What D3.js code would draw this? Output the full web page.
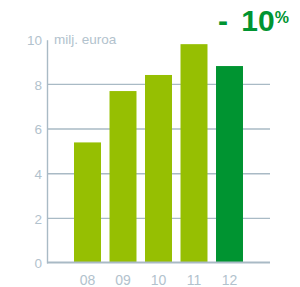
<!DOCTYPE html>
<html>
<head>
<meta charset="utf-8">
<script src="https://cdn.jsdelivr.net/npm/d3@7"></script>
<style>
  html, body { margin: 0; padding: 0; background: #fff; }
  svg { display: block; font-family: "Liberation Sans", Arial, sans-serif; }
  .axis text { fill: #b2c2cd; }
</style>
</head>
<body>
<svg id="chart" width="300" height="287"></svg>
<script>
'use strict';

var years = ['08', '09', '10', '11', '12'];
var values = [5.4, 7.7, 8.42, 9.8, 8.82];
var yTicks = [0, 2, 4, 6, 8, 10];
var unitLabel = 'milj. euroa';
var changeLabel = '- 10';

var LIGHT = '#96bf02',
  DARK = '#009431',
  GRID = '#a9bac5';

draw();

function draw() {
  var svg = d3.select('#chart');

  var xScale = d3.scaleBand()
    .domain(years)
    .range([69.75, 247.25])
    .paddingInner(0.24)
    .paddingOuter(0.12);

  var yScale = d3.scaleLinear()
    .domain([0, 10])
    .range([263, 39.7]);

  // gridlines
  svg.append('g')
    .selectAll('line')
    .data(yTicks.filter(function(t) { return t > 0 && t < 10; }))
    .enter().append('line')
    .attr('x1', 47)
    .attr('x2', 270)
    .attr('y1', function(d) { return yScale(d); })
    .attr('y2', function(d) { return yScale(d); })
    .attr('stroke', GRID)
    .attr('stroke-width', 1.4);

  // bars
  svg.append('g')
    .selectAll('rect')
    .data(values)
    .enter().append('rect')
    .attr('x', function(d, i) { return xScale(years[i]); })
    .attr('width', xScale.bandwidth())
    .attr('y', function(d) { return yScale(d); })
    .attr('height', function(d) { return yScale(0) - yScale(d); })
    .attr('fill', function(d, i) { return i === values.length - 1 ? DARK : LIGHT; });

  // y axis
  var yAxis = d3.axisLeft(yScale)
    .tickValues(yTicks)
    .tickSize(0)
    .tickPadding(5);

  var yg = svg.append('g')
    .attr('class', 'axis')
    .attr('transform', 'translate(47,0)')
    .call(yAxis);
  yg.select('.domain').attr('stroke', GRID).attr('stroke-width', 1.4);
  yg.selectAll('text').attr('font-size', 13.5).attr('font-family', 'inherit').attr('dy', '0.36em');

  // baseline
  svg.append('line')
    .attr('x1', 47)
    .attr('x2', 270)
    .attr('y1', yScale(0) - 0.5)
    .attr('y2', yScale(0) - 0.5)
    .attr('stroke', GRID)
    .attr('stroke-width', 2);

  // x axis
  var xAxis = d3.axisBottom(xScale)
    .tickSize(0)
    .tickPadding(12);

  var xg = svg.append('g')
    .attr('class', 'axis')
    .attr('transform', 'translate(0,' + yScale(0) + ')')
    .call(xAxis);
  xg.select('.domain').remove();
  xg.selectAll('text').attr('font-size', 14).attr('font-family', 'inherit');

  // unit label
  svg.append('text')
    .attr('x', 54)
    .attr('y', 44)
    .attr('font-size', 13.5)
    .attr('fill', '#b2c2cd')
    .text(unitLabel);

  // change label
  var change = svg.append('text')
    .attr('x', 218)
    .attr('y', 31)
    .attr('font-size', 30)
    .attr('font-weight', 'bold')
    .attr('word-spacing', 5)
    .attr('fill', DARK);
  change.append('tspan').text(changeLabel);
  change.append('tspan')
    .attr('font-size', 16)
    .attr('dy', -8)
    .text('%');
}
</script>
</body>
</html>
